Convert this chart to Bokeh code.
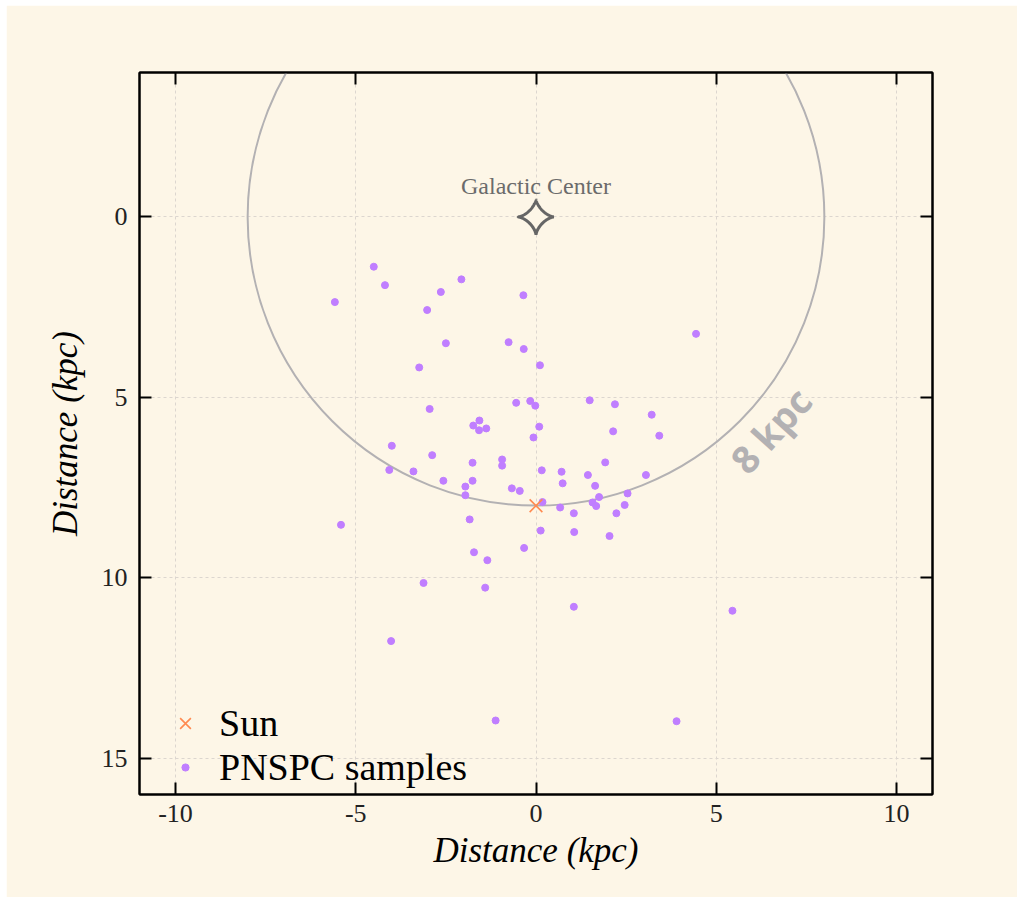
import numpy as np
from bokeh.plotting import figure
from bokeh.models import (Range1d, FixedTicker, LinearAxis, CustomJSTickFormatter,
                          Legend, LegendItem)
from bokeh.core.properties import value
from bokeh.embed import file_html
from bokeh.resources import INLINE

# ---- data (kpc) ----
pn_x = [-4.50, -4.19, -5.58, -2.07, -2.64, -0.35, -3.02, -2.50, -0.76, -0.34,
        -3.24, 0.11, -2.95, -0.55, -0.16, -0.02, -1.74, -1.57, -1.58, -1.38,
        0.09, -0.07, -4.00, -2.88, -1.76, -0.94, -0.94, -4.07, -3.40, -2.57,
        -1.76, -1.96, -1.96, -0.67, -0.45, 0.13, -5.41, -1.84, -0.33, -1.72,
        -1.35, -3.12, -1.41, -4.02, 1.92, 0.16, 0.71, 1.44, 3.05, 0.74,
        1.64, 2.54, 1.75, 0.18, 1.57, 1.67, 2.46, 0.67, 1.05, 2.23,
        1.06, 2.04, 1.05, 5.45, 4.44, 1.49, 2.19, 3.21, 2.14, 3.42,
        -1.12, 3.90]
pn_y = [1.38, 1.89, 2.36, 1.73, 2.08, 2.17, 2.58, 3.50, 3.47, 3.66,
        4.17, 4.11, 5.32, 5.15, 5.10, 5.23, 5.78, 5.64, 5.91, 5.86,
        5.81, 6.11, 6.34, 6.60, 6.81, 6.72, 6.89, 7.01, 7.05, 7.31,
        7.31, 7.47, 7.71, 7.52, 7.59, 8.69, 8.53, 8.38, 9.17, 9.29,
        9.51, 10.14, 10.27, 11.75, 6.80, 7.02, 7.06, 7.15, 7.15, 7.38,
        7.45, 7.66, 7.76, 7.90, 7.91, 8.01, 7.98, 8.05, 8.21, 8.21,
        8.73, 8.84, 10.80, 10.91, 3.24, 5.08, 5.19, 5.48, 5.94, 6.06,
        13.95, 13.97]
sun_x = [0.0]
sun_y = [8.0]
gc_x = [0.0]
gc_y = [0.0]
circle_radius = [8.0]
x_ticks = [-10, -5, 0, 5, 10]
y_ticks = [0, 5, 10, 15]

BG = "#fdf6e7"
SERIF = "Liberation Serif"

p = figure(width=1011, height=892, output_backend="svg", toolbar_location=None,
           x_range=Range1d(-11, 11), y_range=Range1d(16, -4),
           background_fill_color=BG, border_fill_color=BG,
           min_border_left=133, min_border_right=85, min_border_top=67,
           min_border_bottom=103, outline_line_color="black", outline_line_width=2)
p.margin = (5, 6, 3, 6)

plain = CustomJSTickFormatter(code="return tick.toString()")

for ax in (p.xaxis[0], p.yaxis[0]):
    ax.major_tick_in = 12
    ax.major_tick_out = 0
    ax.minor_tick_in = 0
    ax.minor_tick_out = 0
    ax.major_tick_line_width = 2
    ax.axis_line_width = 2
    ax.formatter = plain
    ax.major_label_text_font = SERIF
    ax.major_label_text_font_size = "26px"
    ax.major_label_text_color = "#222222"
    ax.axis_label_text_font = SERIF
    ax.axis_label_text_font_style = "italic"
    ax.axis_label_text_font_size = "35px"
    ax.axis_label_text_color = "black"

p.xaxis[0].ticker = FixedTicker(ticks=x_ticks)
p.yaxis[0].ticker = FixedTicker(ticks=y_ticks)
p.xaxis[0].axis_label = "Distance (kpc)"
p.yaxis[0].axis_label = "Distance (kpc)"
p.xaxis[0].major_label_standoff = 10
p.yaxis[0].major_label_standoff = 12
p.xaxis[0].axis_label_standoff = 6
p.yaxis[0].axis_label_standoff = 14

empty = CustomJSTickFormatter(code="return ''")
top = LinearAxis(ticker=FixedTicker(ticks=x_ticks), formatter=empty,
                 major_tick_in=12, major_tick_out=0, minor_tick_in=0, minor_tick_out=0,
                 major_tick_line_width=2, axis_line_width=2, major_label_standoff=0)
right = LinearAxis(ticker=FixedTicker(ticks=y_ticks), formatter=empty,
                   major_tick_in=12, major_tick_out=0, minor_tick_in=0, minor_tick_out=0,
                   major_tick_line_width=2, axis_line_width=2, major_label_standoff=0)
p.add_layout(top, "above")
p.add_layout(right, "right")

p.xgrid.ticker = FixedTicker(ticks=x_ticks)
p.ygrid.ticker = FixedTicker(ticks=y_ticks)
for g in (p.xgrid[0], p.ygrid[0]):
    g.grid_line_color = "#dcd6cf"
    g.grid_line_dash = "3 3"
    g.grid_line_width = 1

# 8 kpc circle
p.ellipse(x=gc_x, y=gc_y, width=[2 * r for r in circle_radius],
          height=[2 * r for r in circle_radius],
          fill_color=None, line_color="#b3b1b3", line_width=2)

# galactic centre star (astroid shape around the centre position)
t = np.linspace(0, 2 * np.pi, 240)
star_r = 0.5
p.patch(gc_x[0] + star_r * np.cos(t) ** 3, gc_y[0] + star_r * np.sin(t) ** 3,
        fill_color=BG, line_color="#666666", line_width=3)
p.text(x=gc_x, y=[gc_y[0] - 0.85], text=["Galactic Center"],
       text_font=value(SERIF), text_font_size="24px", text_color="#6b6b6b",
       text_align="center", text_baseline="middle")

# 8 kpc label
p.text(x=[6.5], y=[5.9], text=["8 kpc"], angle=np.deg2rad(48),
       text_font=value("Open Sans"), text_font_style="bold", text_font_size="38px",
       text_color="#b3b1b3", text_align="center", text_baseline="middle")

pts = p.scatter(x=pn_x, y=pn_y, size=7, marker="circle",
                fill_color="#c07eff", line_color="#c07eff")
sun = p.scatter(x=sun_x, y=sun_y, marker="x", size=18, line_color="#ff8a50",
                line_width=1.6)

common = dict(background_fill_alpha=0, border_line_alpha=0, label_text_font=SERIF,
              label_text_font_size="38px", label_text_color="black",
              spacing=0, padding=0, margin=0, label_height=40)
leg_sun = Legend(items=[LegendItem(label="Sun", renderers=[sun])],
                 glyph_width=38, glyph_height=38, label_standoff=15,
                 location=(27, 49), **common)
leg_pn = Legend(items=[LegendItem(label="PNSPC samples", renderers=[pts])],
                glyph_width=18, glyph_height=18, label_standoff=25,
                location=(37, 5), **common)
p.add_layout(leg_sun)
p.add_layout(leg_pn)

open("out.html", "w").write(file_html(p, INLINE))
